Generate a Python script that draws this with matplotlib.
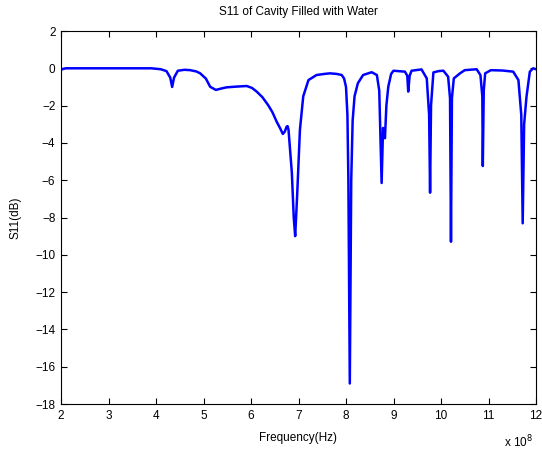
import matplotlib
matplotlib.use('Agg')
import matplotlib.pyplot as plt

plt.rcParams['font.family'] = ['Liberation Sans', 'DejaVu Sans']

# frequency in units of 1e8 Hz, S11 in dB
freq = [2.00, 2.02, 2.10, 2.5, 3.0, 3.5, 3.9, 4.10, 4.22, 4.30, 4.34, 4.38, 4.46,
        4.60, 4.72, 4.85, 4.93, 5.05, 5.14, 5.26, 5.38, 5.49, 5.70, 5.91, 6.02,
        6.12, 6.24, 6.36, 6.45, 6.54, 6.62, 6.67, 6.71, 6.75, 6.77, 6.79, 6.86,
        6.90, 6.93, 6.97, 7.03, 7.10, 7.21, 7.38, 7.55, 7.66, 7.80, 7.91, 7.96,
        8.00, 8.03, 8.05, 8.08, 8.11, 8.14, 8.18, 8.25, 8.36, 8.54, 8.65, 8.70,
        8.75, 8.78, 8.82, 8.85, 8.89, 8.95, 9.00, 9.24, 9.29, 9.31, 9.34, 9.38,
        9.59, 9.70, 9.75, 9.77, 9.79, 9.84, 9.95, 10.05, 10.15, 10.19, 10.21,
        10.23, 10.27, 10.40, 10.50, 10.75, 10.83, 10.87, 10.88, 10.90, 10.93,
        11.05, 11.30, 11.52, 11.63, 11.69, 11.72, 11.75, 11.80, 11.87, 11.94, 12.00]
s11 = [-0.10, -0.05, 0.00, 0.00, 0.00, 0.00, 0.00, -0.05, -0.15, -0.50, -1.00, -0.50, -0.13,
       -0.08, -0.10, -0.17, -0.27, -0.55, -0.99, -1.16, -1.08, -1.02, -0.98, -0.95, -1.05,
       -1.25, -1.55, -1.97, -2.35, -2.86, -3.25, -3.52, -3.40, -3.13, -3.10, -3.30, -5.60,
       -8.00, -9.00, -6.90, -3.30, -1.50, -0.63, -0.36, -0.30, -0.27, -0.30, -0.36, -0.55,
       -1.00, -2.50, -6.00, -16.90, -6.00, -2.80, -1.50, -0.80, -0.36, -0.21, -0.36, -1.20,
       -6.15, -3.20, -3.75, -2.00, -0.99, -0.30, -0.13, -0.18, -0.40, -1.25, -0.40, -0.13,
       -0.06, -0.54, -2.50, -6.67, -2.00, -0.22, -0.15, -0.13, -0.45, -1.60, -9.30,
       -1.60, -0.54, -0.27, -0.10, -0.05, -0.36, -1.50, -5.24, -1.20, -0.27,
       -0.10, -0.12, -0.18, -0.63, -2.50, -8.31, -3.00, -1.52, -0.18, 0.00, -0.05]

fig = plt.figure(figsize=(5.42, 4.54), dpi=100)
ax = fig.add_axes([61/542, 50/454, 475/542, 373/454])
ax.plot(freq, s11, color='#0000ff', linewidth=1.8)

ax.set_xlim(2, 12)
ax.set_ylim(-18, 2)
ax.set_xticks(range(2, 13))
ax.set_yticks(range(-18, 3, 2))
ax.tick_params(direction='in', top=True, right=True, length=4, width=0.8,
               labelsize=8.5, pad=4)
for sp in ax.spines.values():
    sp.set_linewidth(0.8)

fig.text(0.5 + 0.5 * 61/542 - 0.5 * (542 - 536)/542, 1 - 12/454,
         'S11 of Cavity Filled with Water', ha='center', va='center', fontsize=8.5)
fig.text(298/542, 1 - 438/454, 'Frequency(Hz)', ha='center', va='center', fontsize=8.5)
fig.text(15/542, 1 - 218/454, 'S11(dB)', ha='center', va='center',
         rotation=90, fontsize=8.5)
fig.text(533/542, 1 - 442/454, r'x 10$^{8}$', ha='right', va='center', fontsize=8.5)

fig.savefig('out.png', dpi=100)
